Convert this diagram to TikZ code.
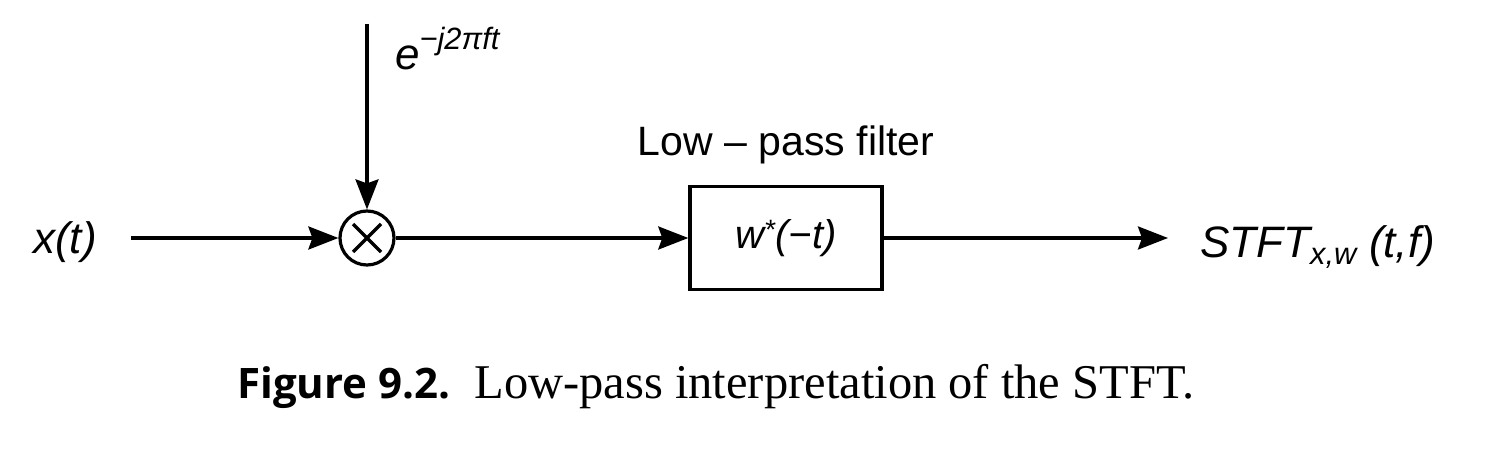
\documentclass[tikz,border=0pt]{standalone}
\usepackage{fontspec}
\setmainfont{Liberation Serif}
\setsansfont{Liberation Sans}
\newfontfamily\figfont{Open Sans}
\usetikzlibrary{arrows.meta,positioning}

\begin{document}
\begin{tikzpicture}[x=1pt,y=-1pt]
                    \tikzset{sig/.style={line width=3.2pt, -{Stealth[length=30pt,width=23pt,inset=4pt]}}}
                    \tikzset{mathlbl/.style={inner sep=0pt, font=\sffamily\itshape\fontsize{44}{50}\selectfont}}
                    \tikzset{mixer/.style={circle, draw, line width=3.2pt, minimum size=54pt, inner sep=0pt,
                        path picture={\draw[line width=3.2pt] (path picture bounding box.center) +(-14pt,-14pt) -- +(14pt,14pt)
                        (path picture bounding box.center) +(-14pt,14pt) -- +(14pt,-14pt);}}}
                    \tikzset{filterbox/.style={draw, line width=3.4pt, minimum width=192pt, minimum height=103pt,
                        inner sep=0pt, font=\sffamily\itshape\fontsize{40}{46}\selectfont}}
                    \useasboundingbox (0,0) rectangle (1508,460);
                    \node[mixer] (mix) at (367,238) {};
                    \node[filterbox] (lpf) at (786,238) {w\textsuperscript{*}(−t)};
                    \coordinate (osc) at (367,24);
                    \coordinate (out) at (1168,238);
                    \node[mathlbl, anchor=base west] (xin) at (33,253) {x(t)};
                    \node[mathlbl, anchor=base west] (expo) at (395,70) {e\raisebox{0.25em}{\textsuperscript{−j2πft}}};
                    \node[anchor=base, inner sep=0pt, font=\sffamily\fontsize{41}{46}\selectfont] (lpflbl) at (786,155) {Low – pass filter};
                    \node[mathlbl, anchor=base west] (stft) at (1200,257) {STFT\textsubscript{x,w} (t,f)};
                    \node[anchor=base west, inner sep=0pt, font=\fontsize{48.5}{54}\selectfont] (caption) at (237,398)
                        {{\figfont\bfseries\fontsize{42}{48}\selectfont Figure 9.2.}\ \ Low-pass interpretation of the STFT.};
                    \draw[sig, shorten <=34pt] (xin.east |- mix) -- (mix.west);
                    \draw[sig] (osc) -- (mix.north);
                    \draw[sig] (mix.east) -- (lpf.west);
                    \draw[sig] (lpf.east) -- (out);
                    \end{tikzpicture}
\end{document}
